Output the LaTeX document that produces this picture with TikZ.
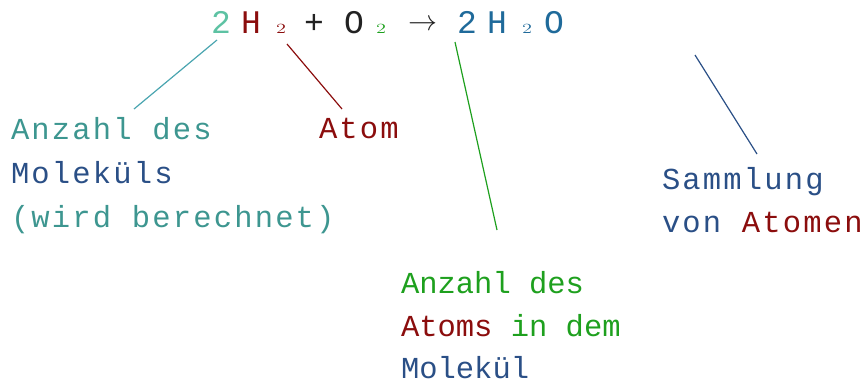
\documentclass[tikz,border=0pt]{standalone}
\usepackage{fontspec}
\setmonofont{Liberation Mono}
\newfontfamily\lblfont[LetterSpace=7.2]{Liberation Mono}
\definecolor{eqteal}{HTML}{5DC2A3}
\definecolor{lnteal}{HTML}{4AA5B0}
\definecolor{txteal}{HTML}{3D9690}
\definecolor{atomred}{HTML}{8B0D0D}
\definecolor{eqgreen}{HTML}{1EA01E}
\definecolor{eqblue}{HTML}{1F6A9A}
\definecolor{molblue}{HTML}{2A4F86}
\definecolor{eqblack}{HTML}{222222}

\begin{document}
\begin{tikzpicture}[x=1pt,y=-1pt,inner sep=0pt,outer sep=0pt,line width=1.2pt,
lbl/.style={anchor=base west,font=\lblfont\fontsize{30.5}{30.5}\selectfont},
plainlbl/.style={anchor=base west,font=\ttfamily\fontsize{30.5}{30.5}\selectfont},
eqch/.style={anchor=base,font=\ttfamily\fontsize{33}{33}\selectfont},
eqsub/.style={anchor=base,xscale=1.45,font=\rmfamily\fontsize{14}{14}\selectfont}]
\useasboundingbox (0,0) rectangle (865,383);

% equation
\draw (221,33) node[eqch,text=eqteal] (c2a) {2};
\draw (251,33) node[eqch,text=atomred] (cHa) {H};
\draw (281,33) node[eqsub,text=atomred] (s2a) {2};
\draw (314,33) node[eqch,text=eqblack] (plus) {+};
\draw (354,33) node[eqch,text=eqblack] (cOa) {O};
\draw (381,33) node[eqsub,text=eqgreen] (s2b) {2};
\draw (423,30) node[anchor=base,scale=2.9,text=eqblack] (arr) {$\rightarrow$};
\draw (467,33) node[eqch,text=eqblue] (c2b) {2};
\draw (497,33) node[eqch,text=eqblue] (cHb) {H};
\draw (527,33) node[eqsub,text=eqblue] (s2c) {2};
\draw (554,33) node[eqch,text=eqblue] (cOb) {O};

% labels
\draw (11,139) node[lbl,text=txteal] (anz1) {Anzahl des};
\draw (11,183) node[lbl,text=molblue] (anz2) {Moleküls};
\draw (11,227) node[lbl,text=txteal] (anz3) {(wird berechnet)};
\draw (319,138) node[lbl,text=atomred] (atom) {Atom};
\draw (401,293) node[plainlbl,text=eqgreen] (ind1) {Anzahl des};
\draw (401,336) node[plainlbl] (ind2) {\textcolor{atomred}{Atoms} \textcolor{eqgreen}{in dem}};
\draw (401,378) node[plainlbl,text=molblue] (ind3) {Molekül};
\draw (662,189) node[lbl,text=molblue] (sam1) {Sammlung};
\draw (662,232) node[lbl] (sam2) {\textcolor{molblue}{von} \textcolor{atomred}{Atomen}};
\coordinate (mol) at (695,55);

% connectors
\draw[lnteal] ([xshift=-4pt,yshift=-7pt]c2a.base) -- ([xshift=123pt,yshift=30pt]anz1.base west);
\draw[atomred] ([xshift=6pt,yshift=-11pt]s2a.base) -- ([xshift=23pt,yshift=29pt]atom.base west);
\draw[eqgreen] ([xshift=-12pt,yshift=-9pt]c2b.base) -- ([xshift=96pt,yshift=63pt]ind1.base west);
\draw[molblue] (mol) -- ([xshift=95pt,yshift=35pt]sam1.base west);
\end{tikzpicture}
\end{document}
